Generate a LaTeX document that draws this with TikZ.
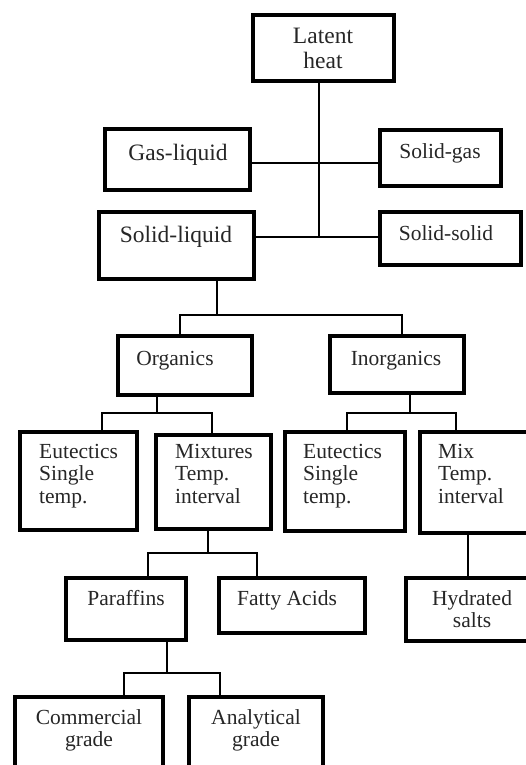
\documentclass[tikz,border=0pt]{standalone}
\usepackage{fontspec}
\setmainfont{Liberation Serif}
\begin{document}
\begin{tikzpicture}[x=1pt,y=-1pt,
  box/.style={draw=black, line width=4pt, inner sep=0pt, rectangle},
  conn/.style={draw=black, line width=2.6pt},
  lbl/.style={inner sep=0pt, font=\fontsize{21.5}{22.5}\selectfont, text=black!85, anchor=base},
  big/.style={font=\fontsize{23.5}{25}\selectfont},
  lblc/.style={lbl, text width=150pt, align=center},
  lbll/.style={lbl, text width=110pt, align=left, anchor=base west},
]
\useasboundingbox (0,0) rectangle (526,765);
\clip (0,0) rectangle (526,765);

% boxes
\node[box, minimum width=141pt, minimum height=66pt] (lh) at (323.5,48) {};
\node[box, minimum width=145pt, minimum height=61pt] (gl) at (177.5,159.5) {};
\node[box, minimum width=121pt, minimum height=56pt] (sg) at (440.5,158) {};
\node[box, minimum width=155pt, minimum height=67pt] (sl) at (176.5,245.5) {};
\node[box, minimum width=141pt, minimum height=53pt] (ss) at (450.5,238.5) {};
\node[box, minimum width=134pt, minimum height=59pt] (org) at (185,365.5) {};
\node[box, minimum width=134pt, minimum height=57pt] (inorg) at (397,364.5) {};
\node[box, minimum width=117pt, minimum height=98pt] (eu1) at (78.5,481) {};
\node[box, minimum width=115pt, minimum height=94pt] (mixt) at (213.5,482) {};
\node[box, minimum width=120pt, minimum height=99pt] (eu2) at (345,481.5) {};
\node[box, minimum width=120pt, minimum height=101pt] (mix) at (480,482.5) {};
\node[box, minimum width=120pt, minimum height=62pt] (par) at (126,609) {};
\node[box, minimum width=146pt, minimum height=55pt] (fa) at (292,605.5) {};
\node[box, minimum width=134pt, minimum height=63pt] (hs) at (473,609.5) {};
\node[box, minimum width=148pt, minimum height=93pt] (com) at (89,743.5) {};
\node[box, minimum width=134pt, minimum height=93pt] (ana) at (256,743.5) {};

% labels
\node[lblc, big] (lh-t) at (323,44) {Latent\\heat};
\node[lbl, big] (gl-t) at (178,160) {Gas-liquid};
\node[lbl] (sg-t) at (440,158) {Solid-gas};
\node[lbl, big] (sl-t) at (176,242) {Solid-liquid};
\node[lbl] (ss-t) at (446,240) {Solid-solid};
\node[lbl] (org-t) at (175,365) {Organics};
\node[lbl] (inorg-t) at (396,365) {Inorganics};
\node[lbll] (eu1-t) at (39,458) {Eutectics\\Single\\temp.};
\node[lbll] (mixt-t) at (175,458) {Mixtures\\Temp.\\interval};
\node[lbll] (eu2-t) at (303,458) {Eutectics\\Single\\temp.};
\node[lbll] (mix-t) at (438,458) {Mix\\Temp.\\interval};
\node[lbl] (par-t) at (126,605) {Paraffins};
\node[lbl] (fa-t) at (287,605) {Fatty Acids};
\node[lblc] (hs-t) at (472,605) {Hydrated\\salts};
\node[lblc] (com-t) at (89,724) {Commercial\\grade};
\node[lblc] (ana-t) at (256,724) {Analytical\\grade};

% junction coordinates
\coordinate (t1) at (319,163);
\coordinate (t2) at (319,237);
\coordinate (b1) at (217,315);
\coordinate (b1l) at (180,315);
\coordinate (b1r) at (402,315);
\coordinate (b2) at (157,413);
\coordinate (b2l) at (102,413);
\coordinate (b2r) at (212,413);
\coordinate (b3) at (410,413);
\coordinate (b3l) at (347,413);
\coordinate (b3r) at (456,413);
\coordinate (b4) at (208,553);
\coordinate (b4l) at (148,553);
\coordinate (b4r) at (257,553);
\coordinate (b5) at (468,0);
\coordinate (b6) at (167,673);
\coordinate (b6l) at (124,673);
\coordinate (b6r) at (220,673);

% connectors
\draw[conn] (lh.south -| t1) -- (t2);
\draw[conn] (gl.east |- t1) -- (sg.west |- t1);
\draw[conn] (sl.east |- t2) -- (ss.west |- t2);

\draw[conn] (sl.south -| b1) -- (b1);
\draw[conn] (org.north -| b1l) -- (b1l) -- (b1r) -- (inorg.north -| b1r);

\draw[conn] (org.south -| b2) -- (b2);
\draw[conn] (eu1.north -| b2l) -- (b2l) -- (b2r) -- (mixt.north -| b2r);

\draw[conn] (inorg.south -| b3) -- (b3);
\draw[conn] (eu2.north -| b3l) -- (b3l) -- (b3r) -- (mix.north -| b3r);

\draw[conn] (mixt.south -| b4) -- (b4);
\draw[conn] (par.north -| b4l) -- (b4l) -- (b4r) -- (fa.north -| b4r);

\draw[conn] (mix.south -| b5) -- (hs.north -| b5);

\draw[conn] (par.south -| b6) -- (b6);
\draw[conn] (com.north -| b6l) -- (b6l) -- (b6r) -- (ana.north -| b6r);
\end{tikzpicture}
\end{document}
